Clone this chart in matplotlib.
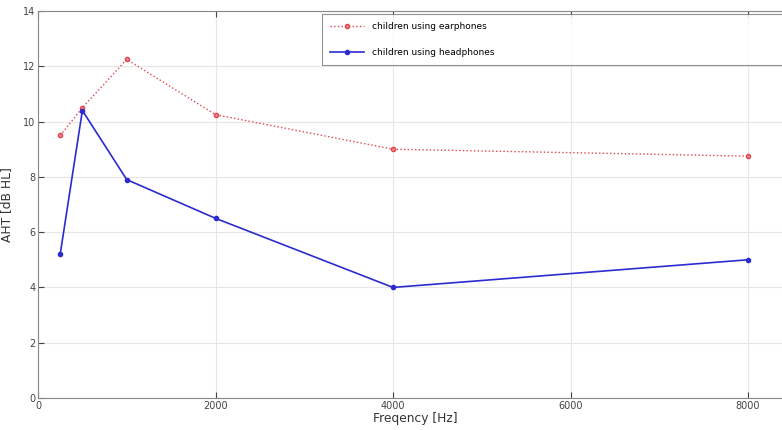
import matplotlib
matplotlib.use('Agg')
import matplotlib.pyplot as plt

freqs = [250, 500, 1000, 2000, 4000, 8000]
aht_earphones = [9.5, 10.5, 12.25, 10.25, 9.0, 8.75]
aht_headphones = [5.2, 10.4, 7.9, 6.5, 4.0, 5.0]
x_ticks = [0, 2000, 4000, 6000, 8000]
y_ticks = [0, 2, 4, 6, 8, 10, 12, 14]

W, H = 782, 430
fig = plt.figure(figsize=(W / 100, H / 100), dpi=100)

# axes runs a little past the right edge of the picture, like the cropped original
x0, x1 = 38, 38 + 177.5 * 4.25
ax = fig.add_axes([x0 / W, 1 - 398 / H, (x1 - x0) / W, 387 / H])

ax.plot(freqs, aht_earphones, color='#e0454f', ls=':', lw=1.0,
        marker='o', ms=3, mfc='#f08890', mec='#e0454f', label='children using earphones')
ax.plot(freqs, aht_headphones, color='#2b2bd0', ls='-', lw=1.2,
        marker='o', ms=3, mfc='#2b2bd0', mec='#2b2bd0', label='children using headphones')

ax.set_xlim(0, 8500)
ax.set_ylim(0, 14)
ax.set_xticks(x_ticks)
ax.set_yticks(y_ticks)
ax.grid(True, color='#e6e6e6', lw=0.8)
ax.set_axisbelow(True)
ax.tick_params(direction='in', top=True, right=True, labelsize=7, colors='#444444',
               length=4, pad=2)
for s in ax.spines.values():
    s.set_color('#888888')

ax.set_xlabel('Freqency [Hz]', fontsize=8.8, color='#333333', labelpad=1)
ax.set_ylabel('AHT [dB HL]', fontsize=8.8, color='#333333', labelpad=7)

leg = fig.legend(loc='upper left', bbox_to_anchor=(322 / W, 1 - 68 / H, 520 / W, 54 / H),
                 mode='expand', borderaxespad=0, fontsize=6.5, frameon=True, fancybox=False,
                 handlelength=3.8, labelspacing=1.9, borderpad=0.9)
leg.get_frame().set_edgecolor('#777777')
leg.get_frame().set_linewidth(0.8)

fig.savefig('out.png', dpi=100)
